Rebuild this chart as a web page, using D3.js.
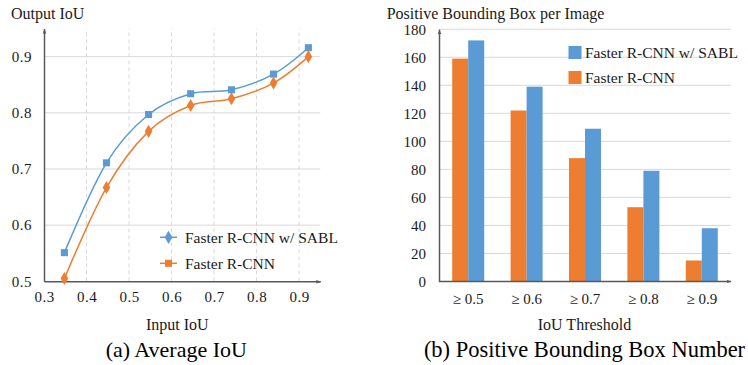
<!DOCTYPE html>
<html><head><meta charset="utf-8">
<script src="https://cdn.jsdelivr.net/npm/d3@7"></script>
<style>
body{margin:0;background:#fff;}
svg text{font-family:"Liberation Serif","Tinos","Times New Roman","Nimbus Roman","DejaVu Serif",serif !important;}
</style></head>
<body>
<svg id="c" width="748" height="365"></svg>
<script>
// ---- Data: (a) Average IoU ----
const inputIoU = [0.348, 0.447, 0.546, 0.645, 0.741, 0.840, 0.922];
const sablIoU  = [0.551, 0.711, 0.797, 0.834, 0.841, 0.869, 0.916];
const fasterIoU= [0.505, 0.667, 0.767, 0.813, 0.825, 0.853, 0.900];
const xTicksA = [0.3, 0.4, 0.5, 0.6, 0.7, 0.8, 0.9];
const yTicksA = [0.5, 0.6, 0.7, 0.8, 0.9];
// ---- Data: (b) Positive Bounding Box Number ----
const thresholds = ["\u2265 0.5", "\u2265 0.6", "\u2265 0.7", "\u2265 0.8", "\u2265 0.9"];
const fasterBoxes = [159, 122, 88, 53, 15];
const sablBoxes   = [172, 139, 109, 79, 38];
const yTicksB = [0, 20, 40, 60, 80, 100, 120, 140, 160, 180];
const seriesNames = ["Faster R-CNN w/ SABL", "Faster R-CNN"];

const BLUE = "#5B9BD5", ORANGE = "#ED7D31", AXIS = "#595959", GRID = "#d9d9d9", TXT = "#1a1a1a";
const svg = d3.select("#c");

const defs = svg.append("defs");
defs.append("marker").attr("id","arr").attr("viewBox","0 0 10 10").attr("refX",9).attr("refY",5)
  .attr("markerWidth",5).attr("markerHeight",5).attr("orient","auto").attr("markerUnits","userSpaceOnUse")
  .append("path").attr("d","M0,1.5L10,5L0,8.5Z").attr("fill",AXIS);

// ================= Chart (a) =================
const xA = d3.scaleLinear().domain([0.3, 0.95]).range([44, 320.3]);
const yA = d3.scaleLinear().domain([0.5, 0.95]).range([281.3, 28.6]);
const gA = svg.append("g");

// grid
gA.append("g").selectAll("line").data(yTicksA.slice(1)).join("line")
  .attr("x1", xA(0.3)).attr("x2", xA(0.95)).attr("y1", d=>yA(d)).attr("y2", d=>yA(d))
  .attr("stroke", GRID).attr("stroke-width",1);
gA.append("g").selectAll("line").data(xTicksA.slice(1)).join("line")
  .attr("x1", d=>xA(d)).attr("x2", d=>xA(d)).attr("y1", yA(0.5)).attr("y2", yA(0.95))
  .attr("stroke", GRID).attr("stroke-width",1).attr("stroke-dasharray","4,3");

// axes
const axA_y = gA.append("g").attr("transform",`translate(${xA(0.3)},0)`)
  .call(d3.axisLeft(yA).tickValues(yTicksA).tickSize(0).tickSizeOuter(0).tickPadding(12).tickFormat(d3.format(".1f")));
const axA_x = gA.append("g").attr("transform",`translate(0,${yA(0.5)})`)
  .call(d3.axisBottom(xA).tickValues(xTicksA).tickSize(0).tickSizeOuter(0).tickPadding(10).tickFormat(d3.format(".1f")));
[axA_y, axA_x].forEach(a=>{
  a.select(".domain").attr("stroke",AXIS).attr("stroke-width",1.5).attr("marker-end","url(#arr)");
  a.selectAll("text").attr("font-size",15).attr("fill",TXT).style("letter-spacing","0.5px");
});

// lines
const lineA = d3.line().x(d=>xA(d[0])).y(d=>yA(d[1])).curve(d3.curveCardinal.tension(0));
const sablPts = inputIoU.map((x,i)=>[x, sablIoU[i]]);
const fastPts = inputIoU.map((x,i)=>[x, fasterIoU[i]]);
gA.append("path").attr("d", lineA(sablPts)).attr("fill","none").attr("stroke",BLUE).attr("stroke-width",1.5);
gA.append("path").attr("d", lineA(fastPts)).attr("fill","none").attr("stroke",ORANGE).attr("stroke-width",1.5);
const sq = d3.symbol().type(d3.symbolSquare).size(50);
const dm = d3.symbol().type(d3.symbolDiamond).size(50);
gA.append("g").selectAll("path").data(sablPts).join("path")
  .attr("d", sq).attr("transform", d=>`translate(${xA(d[0])},${yA(d[1])})`).attr("fill",BLUE);
gA.append("g").selectAll("path").data(fastPts).join("path")
  .attr("d", dm).attr("transform", d=>`translate(${xA(d[0])},${yA(d[1])})`).attr("fill",ORANGE);

// legend (a)
const legA = gA.append("g");
[[BLUE, dm, 237.3], [ORANGE, sq, 263.3]].forEach((s,i)=>{
  legA.append("line").attr("x1",160).attr("x2",177).attr("y1",s[2]).attr("y2",s[2]).attr("stroke",s[0]).attr("stroke-width",1.5);
  legA.append("path").attr("d", s[1]).attr("transform",`translate(168.5,${s[2]})`).attr("fill",s[0]);
  legA.append("text").attr("x",185).attr("y",s[2]).attr("dy","0.35em").attr("font-size",15.5).attr("fill",TXT).text(seriesNames[i]);
});

gA.append("text").attr("x",11).attr("y",18.5).attr("font-size",16).attr("fill",TXT).text("Output IoU");
gA.append("text").attr("x",177.3).attr("y",330).attr("text-anchor","middle").attr("font-size",16).attr("fill",TXT).text("Input IoU");
gA.append("text").attr("x",176.3).attr("y",357).attr("text-anchor","middle").attr("font-size",22).attr("fill","#000").text("(a) Average IoU");

// ================= Chart (b) =================
const xB = d3.scaleBand().domain(thresholds).range([439, 731]).paddingInner(0.452).paddingOuter(0.226);
const xSub = d3.scaleBand().domain(["faster","sabl"]).range([0, xB.bandwidth()]);
const yB = d3.scaleLinear().domain([0, 180]).range([281.5, 29.2]);
const gB = svg.append("g");

gB.append("g").selectAll("line").data(yTicksB.slice(1)).join("line")
  .attr("x1", 439).attr("x2", 731).attr("y1", d=>yB(d)).attr("y2", d=>yB(d))
  .attr("stroke", GRID).attr("stroke-width",1);

const bars = thresholds.map((t,i)=>({t, faster: fasterBoxes[i], sabl: sablBoxes[i]}));
const grp = gB.append("g").selectAll("g").data(bars).join("g").attr("transform", d=>`translate(${xB(d.t)},0)`);
grp.append("rect").attr("x", xSub("faster")).attr("width", xSub.bandwidth())
  .attr("y", d=>yB(d.faster)).attr("height", d=>yB(0)-yB(d.faster)).attr("fill",ORANGE);
grp.append("rect").attr("x", xSub("sabl")).attr("width", xSub.bandwidth())
  .attr("y", d=>yB(d.sabl)).attr("height", d=>yB(0)-yB(d.sabl)).attr("fill",BLUE);

const axB_y = gB.append("g").attr("transform",`translate(439,0)`)
  .call(d3.axisLeft(yB).tickValues(yTicksB).tickSize(0).tickSizeOuter(0).tickPadding(13));
const axB_x = gB.append("g").attr("transform",`translate(0,${yB(0)})`)
  .call(d3.axisBottom(xB).tickSize(0).tickSizeOuter(0).tickPadding(12));
axB_x.select(".domain").attr("d", `M439,0H731`);
[axB_y, axB_x].forEach(a=>{
  a.select(".domain").attr("stroke",AXIS).attr("stroke-width",1.5).attr("marker-end","url(#arr)");
  a.selectAll("text").attr("font-size",15).attr("fill",TXT);
});

// legend (b)
[[BLUE, 52.5], [ORANGE, 77.5]].forEach((s,i)=>{
  gB.append("rect").attr("x",568.5).attr("y",s[1]-6.5).attr("width",13).attr("height",13).attr("fill",s[0]);
  gB.append("text").attr("x",585).attr("y",s[1]).attr("dy","0.35em").attr("font-size",15.5).attr("fill",TXT).text(seriesNames[i]);
});

gB.append("text").attr("x",386.7).attr("y",18.5).attr("font-size",16).attr("fill",TXT).text("Positive Bounding Box per Image");
gB.append("text").attr("x",584.5).attr("y",330).attr("text-anchor","middle").attr("font-size",16).attr("fill",TXT).text("IoU Threshold");
gB.append("text").attr("x",584.5).attr("y",357).attr("text-anchor","middle").attr("font-size",22.5).attr("fill","#000").text("(b) Positive Bounding Box Number");
</script>
</body></html>
